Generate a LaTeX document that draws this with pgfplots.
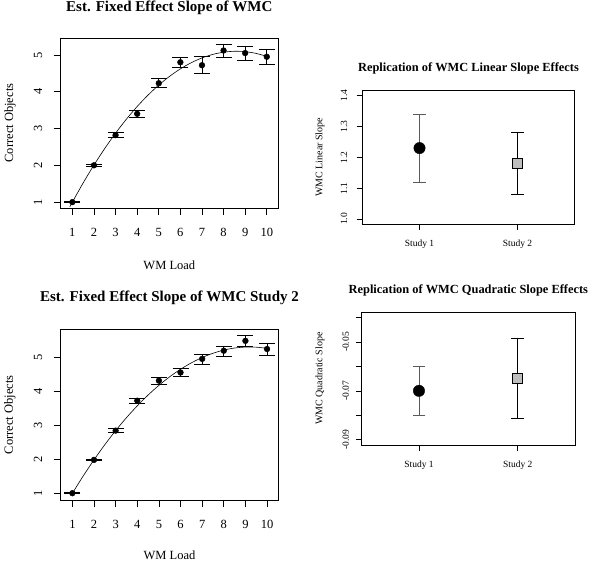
\documentclass[border=0pt]{standalone}
\usepackage{fontspec}
\setmainfont{Liberation Serif}
\usepackage{pgfplots}
\pgfplotsset{compat=1.18}
\definecolor{sqgray}{RGB}{190,190,190}
\definecolor{bargray}{RGB}{90,90,90}
\pgfplotsset{
  rstyle/.style={
    anchor=south west, scale only axis,
    tick align=outside, tick pos=left,
    axis line style={line width=0.6pt},
    every tick/.style={line width=0.6pt, black},
    /pgf/number format/assume math mode=true,
    scaled ticks=false,
    clip=false,
  },
  leftstyle/.style={
    rstyle,
    major tick length=7pt,
    xmin=0.46, xmax=10.52,
    xtick={1,...,10}, ytick={1,...,5},
    every tick label/.append style={font=\fontsize{12.5}{14}\selectfont},
    xticklabel style={anchor=center, yshift=-17pt},
    yticklabel style={xshift=-15.7pt, rotate=90, anchor=center},
    label style={font=\fontsize{12.5}{14}\selectfont},
    title style={font=\bfseries\fontsize{15}{18}\selectfont, anchor=center, yshift=-6pt},
    xlabel={WM Load}, ylabel={Correct Objects},
  },
  rightstyle/.style={
    rstyle,
    major tick length=6pt,
    xmin=0.42, xmax=2.58,
    xtick={1,2}, xticklabels={Study 1, Study 2},
    every tick label/.append style={font=\fontsize{9.5}{11}\selectfont},
    xticklabel style={anchor=center, yshift=-14pt},
    label style={font=\fontsize{10}{12}\selectfont},
    title style={font=\bfseries\fontsize{12.4}{15}\selectfont, anchor=center, yshift=-6pt},
  },
}
\begin{document}
\begin{tikzpicture}
\useasboundingbox (0,0) rectangle (600pt,561pt);

% Top left
\begin{axis}[leftstyle, at={(60.7pt,353pt)}, width=217.3pt, height=170pt,
  ymin=0.84, ymax=5.46,
  title={Est. Fixed Effect Slope of WMC},
  title style={at={(axis description cs:0.5,1.176)}},
  xlabel style={at={(axis description cs:0.5,-0.335)}, anchor=center},
  ylabel style={at={(axis description cs:-0.2333,0.5)}, anchor=center},
]
\addplot[black, line width=0.6pt, smooth] coordinates {
(0.88,0.868)(1.0,0.999)(1.5,1.521)(2.0,2.007)(2.5,2.458)(3.0,2.873)(3.5,3.253)
(4.0,3.598)(4.5,3.906)(5.0,4.180)(5.5,4.418)(6.0,4.620)(6.5,4.787)(7.0,4.918)
(7.5,5.014)(8.0,5.074)(8.5,5.099)(9.0,5.089)(9.5,5.042)(10.0,4.961)};
\addplot[only marks, mark=*, mark size=2.9pt, black,
  error bars/.cd, y dir=both, y explicit,
  error bar style={line width=0.8pt, black},
  error mark options={rotate=90, mark size=8pt, line width=0.8pt, black}]
coordinates {
(1,1.00) += (0,0.02) -= (0,0.02)
(2,2.00) += (0,0.02) -= (0,0.02)
(3,2.82) += (0,0.07) -= (0,0.05)
(4,3.40) += (0,0.10) -= (0,0.09)
(5,4.23) += (0,0.12) -= (0,0.11)
(6,4.80) += (0,0.12) -= (0,0.13)
(7,4.72) += (0,0.23) -= (0,0.23)
(8,5.12) += (0,0.17) -= (0,0.18)
(9,5.05) += (0,0.19) -= (0,0.19)
(10,4.95) += (0,0.19) -= (0,0.20)
};
\end{axis}

% Bottom left
\begin{axis}[leftstyle, at={(60.7pt,61pt)}, width=217.6pt, height=170.7pt,
  ymin=0.80, ymax=5.82,
  title={Est. Fixed Effect Slope of WMC Study 2},
  title style={at={(axis description cs:0.5,1.183)}},
  xlabel style={at={(axis description cs:0.5,-0.322)}, anchor=center},
  ylabel style={at={(axis description cs:-0.2333,0.5)}, anchor=center},
]
\addplot[black, line width=0.6pt, smooth] coordinates {
(1.0,0.997)(1.5,1.505)(2.0,1.982)(2.5,2.427)(3.0,2.840)(3.5,3.221)(4.0,3.569)
(4.5,3.886)(5.0,4.171)(5.5,4.424)(6.0,4.645)(6.5,4.833)(7.0,4.990)(7.5,5.115)
(8.0,5.208)(8.5,5.269)(9.0,5.297)(9.5,5.294)(10.0,5.259)};
\addplot[only marks, mark=*, mark size=2.9pt, black,
  error bars/.cd, y dir=both, y explicit,
  error bar style={line width=0.8pt, black},
  error mark options={rotate=90, mark size=8pt, line width=0.8pt, black}]
coordinates {
(1,1.00) += (0,0.02) -= (0,0.02)
(2,1.98) += (0,0.02) -= (0,0.02)
(3,2.84) += (0,0.06) -= (0,0.04)
(4,3.72) += (0,0.07) -= (0,0.07)
(5,4.31) += (0,0.09) -= (0,0.10)
(6,4.55) += (0,0.11) -= (0,0.11)
(7,4.95) += (0,0.12) -= (0,0.16)
(8,5.19) += (0,0.14) -= (0,0.17)
(9,5.48) += (0,0.16) -= (0,0.17)
(10,5.24) += (0,0.17) -= (0,0.19)
};
\end{axis}

% Top right
\begin{axis}[rightstyle, at={(362.7pt,337pt)}, width=211.6pt, height=133.3pt,
  ymin=0.984, ymax=1.416,
  ytick={1.0,1.1,1.2,1.3,1.4},
  yticklabels={1.0,1.1,1.2,1.3,1.4},
  yticklabel style={xshift=-12.7pt, rotate=90, anchor=center},
  title={Replication of WMC Linear Slope Effects},
  title style={at={(axis description cs:0.5,1.17)}},
  ylabel={WMC Linear Slope},
  ylabel style={at={(axis description cs:-0.2018,0.5)}, anchor=center},
]
\addplot[only marks, mark=*, mark size=5.7pt, black,
  error bars/.cd, y dir=both, y explicit,
  error bar style={line width=0.8pt, bargray},
  error mark options={rotate=90, mark size=6.3pt, line width=0.8pt, bargray}]
coordinates {(1,1.23) += (0,0.11) -= (0,0.11)};
\addplot[only marks, mark=square*, mark size=5pt, draw=black, fill=sqgray,
  mark options={line width=0.7pt},
  error bars/.cd, y dir=both, y explicit,
  error bar style={line width=0.8pt, black},
  error mark options={rotate=90, mark size=6.3pt, line width=0.8pt, black}]
coordinates {(2,1.18) += (0,0.10) -= (0,0.10)};
\end{axis}

% Bottom right
\begin{axis}[rightstyle, at={(361.7pt,116pt)}, width=213.3pt, height=132.7pt,
  ymin=-0.0922, ymax=-0.0378,
  ytick={-0.09,-0.08,-0.07,-0.06,-0.05,-0.04},
  yticklabels={-0.09,{},-0.07,{},-0.05,{}},
  yticklabel style={xshift=-10pt, rotate=90, anchor=center},
  title={Replication of WMC Quadratic Slope Effects},
  title style={at={(axis description cs:0.5,1.168)}},
  ylabel={WMC Quadratic Slope},
  ylabel style={at={(axis description cs:-0.1955,0.5)}, anchor=center},
]
\addplot[only marks, mark=*, mark size=5.7pt, black,
  error bars/.cd, y dir=both, y explicit,
  error bar style={line width=0.8pt, bargray},
  error mark options={rotate=90, mark size=6.3pt, line width=0.8pt, bargray}]
coordinates {(1,-0.0700) += (0,0.0100) -= (0,0.0100)};
\addplot[only marks, mark=square*, mark size=5pt, draw=black, fill=sqgray,
  mark options={line width=0.7pt},
  error bars/.cd, y dir=both, y explicit,
  error bar style={line width=0.8pt, black},
  error mark options={rotate=90, mark size=6.3pt, line width=0.8pt, black}]
coordinates {(2,-0.0648) += (0,0.0162) -= (0,0.0163)};
\end{axis}
\end{tikzpicture}
\end{document}
